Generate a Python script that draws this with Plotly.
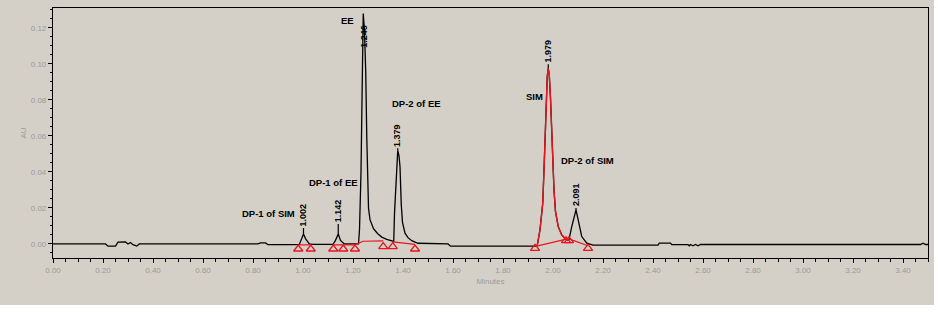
import plotly.graph_objects as go

# ---- data ----
# chromatogram vertices (minutes, AU)
time_min = [0.00, 0.21, 0.22, 0.25, 0.26, 0.29, 0.30, 0.31, 0.32, 0.335, 0.345,
            0.82, 0.83, 0.85, 0.86, 0.97,
            0.985, 0.995, 1.002, 1.01, 1.025, 1.04,
            1.12, 1.13, 1.141, 1.15, 1.165, 1.215,
            1.222, 1.226, 1.232, 1.237, 1.241, 1.246, 1.251, 1.255, 1.258, 1.262,
            1.268, 1.282, 1.298, 1.315, 1.335, 1.355, 1.363,
            1.366, 1.371, 1.379, 1.384, 1.388, 1.393, 1.398, 1.408, 1.42, 1.435,
            1.46, 1.58, 1.59, 1.93,
            1.937, 1.948, 1.959, 1.965, 1.971, 1.977, 1.981, 1.985, 1.990, 1.995,
            1.999, 2.004, 2.01, 2.021, 2.035, 2.048, 2.058,
            2.064, 2.075, 2.084, 2.092, 2.101, 2.108, 2.115, 2.135, 2.16,
            2.42, 2.425, 2.47, 2.475, 2.54, 2.545, 2.55, 2.56, 2.57, 2.58, 2.59,
            3.47, 3.48, 3.49, 3.50]
absorb_au = [0.0, 0.0, -0.0012, -0.0012, 0.0010, 0.0011, 0.0, 0.0008, -0.0004, -0.0012, 0.0,
             0.0, 0.0006, 0.0006, -0.0004, -0.0004,
             -0.0003, 0.003, 0.0055, 0.003, 0.0, -0.0002,
             -0.0002, 0.002, 0.0055, 0.002, 0.0, 0.0,
             0.0, 0.008, 0.04, 0.09, 0.128, 0.118, 0.095, 0.06, 0.032, 0.02,
             0.0135, 0.0085, 0.0058, 0.0038, 0.0025, 0.0014, 0.0014,
             0.017, 0.032, 0.052, 0.049, 0.043, 0.022, 0.012, 0.006, 0.0035, 0.0018,
             0.0004, 0.0, -0.0012, -0.0012,
             -0.0008, 0.0078, 0.0226, 0.045, 0.0726, 0.093, 0.0976, 0.094, 0.081, 0.063,
             0.045, 0.03, 0.018, 0.0096, 0.005, 0.003, 0.0022,
             0.0025, 0.0096, 0.0152, 0.0189, 0.0133, 0.008, 0.0041, 0.0004, -0.0007,
             -0.0007, 0.0005, 0.0005, -0.0004, -0.0004, -0.0010, -0.0003, -0.0010, -0.0003, -0.0010, -0.0003,
             -0.0003, 0.0004, -0.0003, -0.0003]

# highlighted (red) peak window
sim_start, sim_end = 1.93, 2.06

# integration baselines (red) : separate segments
base_t = [0.981, 1.031, None, 1.121, 1.161, 1.208, 1.24, 1.321, None, 1.359, 1.448, None,
          1.93, 2.058, None, 2.064, 2.14]
base_v = [-0.0005, -0.0005, None, -0.0005, -0.0005, -0.0005, 0.0015, 0.0017, None, 0.0012, -0.0002, None,
          -0.0013, 0.0028, None, 0.0028, -0.0010]

# peak start/end markers
tri_t = [0.981, 1.031, 1.121, 1.161, 1.208, 1.321, 1.359, 1.448, 1.928, 2.052, 2.064, 2.14]
tri_v = [-0.0028, -0.0028, -0.0028, -0.0028, -0.0028, -0.0015, -0.0015, -0.0028, -0.0024, 0.0018, 0.0018, -0.0024]

# retention-time labels
rt_labels = ["1.002", "1.142", "1.246", "1.379", "1.979", "2.091"]
rt_t = [1.002, 1.141, 1.241, 1.379, 1.981, 2.092]
rt_v = [0.0055, 0.0055, 0.128, 0.052, 0.0976, 0.0189]
rt_off = [-19, -23, 23, -15, -17, -15]

# peak names
peak_names = ["DP-1 of SIM", "DP-1 of EE", "EE", "DP-2 of EE", "SIM", "DP-2 of SIM"]
name_t = [0.86, 1.12, 1.176, 1.452, 1.924, 2.136]
name_v = [0.0167, 0.0339, 0.1244, 0.0783, 0.0822, 0.0461]

x_ticks = [0.00, 0.20, 0.40, 0.60, 0.80, 1.00, 1.20, 1.40, 1.60, 1.80, 2.00, 2.20,
           2.40, 2.60, 2.80, 3.00, 3.20, 3.40]
y_ticks = [0.00, 0.02, 0.04, 0.06, 0.08, 0.10, 0.12]

BG = "#D4D0C8"
RED = "#E8141E"
GREY = "#9a9a9a"
FONT = "Liberation Sans"

fig = go.Figure()

fig.add_trace(go.Scatter(x=time_min, y=absorb_au, mode="lines",
                         line=dict(color="black", width=1.3), hoverinfo="skip"))

sim_t = [t for t in time_min if sim_start <= t <= sim_end]
sim_v = [v for t, v in zip(time_min, absorb_au) if sim_start <= t <= sim_end]
fig.add_trace(go.Scatter(x=sim_t, y=sim_v, mode="lines",
                         line=dict(color=RED, width=1.4), hoverinfo="skip"))

fig.add_trace(go.Scatter(x=base_t, y=base_v, mode="lines", connectgaps=False,
                         line=dict(color=RED, width=1.2), hoverinfo="skip"))

fig.add_trace(go.Scatter(x=tri_t, y=tri_v, mode="markers",
                         marker=dict(symbol="triangle-up-open", size=8, color=RED,
                                     line=dict(width=1.3, color=RED)),
                         hoverinfo="skip"))

for lab, t, v, off in zip(rt_labels, rt_t, rt_v, rt_off):
    if off > 0:
        fig.add_annotation(x=t, y=v, text="<b>%s</b>" % lab, textangle=-90, showarrow=False,
                           yshift=-off, font=dict(family=FONT, size=9, color="black"))
    else:
        fig.add_annotation(x=t, y=v, text="<b>%s</b>" % lab, textangle=-90, showarrow=True,
                           arrowhead=0, arrowwidth=1.2, arrowcolor="black", ax=0, ay=off,
                           font=dict(family=FONT, size=9, color="black"))

for lab, t, v in zip(peak_names, name_t, name_v):
    fig.add_annotation(x=t, y=v, text="<b>%s</b>" % lab, showarrow=False,
                       font=dict(family=FONT, size=9.5, color="black"))

# grey panel with white right/bottom margin
fig.add_shape(type="rect", xref="paper", yref="paper",
              x0=-53 / 875, x1=881 / 875, y0=-47 / 250, y1=258 / 250,
              fillcolor=BG, line=dict(width=0), layer="below")

fig.update_layout(
    width=938, height=312,
    margin=dict(l=53, r=10, t=8, b=54, autoexpand=False),
    paper_bgcolor="white", plot_bgcolor=BG,
    showlegend=False,
    font=dict(family=FONT, size=8, color=GREY),
)
fig.update_xaxes(range=[0, 3.5], tickvals=x_ticks, tickformat=".2f", automargin=False,
                 showgrid=False, zeroline=False,
                 showline=True, linecolor="black", linewidth=1.2, mirror=True,
                 ticks="outside", ticklen=4, tickcolor="black", tickwidth=1,
                 minor=dict(dtick=0.05, ticks="outside", ticklen=3, tickcolor="black"),
                 tickfont=dict(family=FONT, size=8, color=GREY),
                 title=dict(text="Minutes", font=dict(family=FONT, size=8, color=GREY), standoff=4))
fig.update_yaxes(range=[-0.0078, 0.1311], tickvals=y_ticks, tickformat=".2f", automargin=False,
                 showgrid=False, zeroline=False,
                 showline=True, linecolor="black", linewidth=1.2, mirror=True,
                 ticks="outside", ticklen=4, tickcolor="black", tickwidth=1,
                 minor=dict(dtick=0.005, ticks="outside", ticklen=2, tickcolor="black"),
                 tickfont=dict(family=FONT, size=8, color=GREY),
                 title=dict(text="AU", font=dict(family=FONT, size=8, color=GREY), standoff=2))

fig.write_html("out.html", config={"displayModeBar": False},
               post_script="document.body.style.margin='0px';")
